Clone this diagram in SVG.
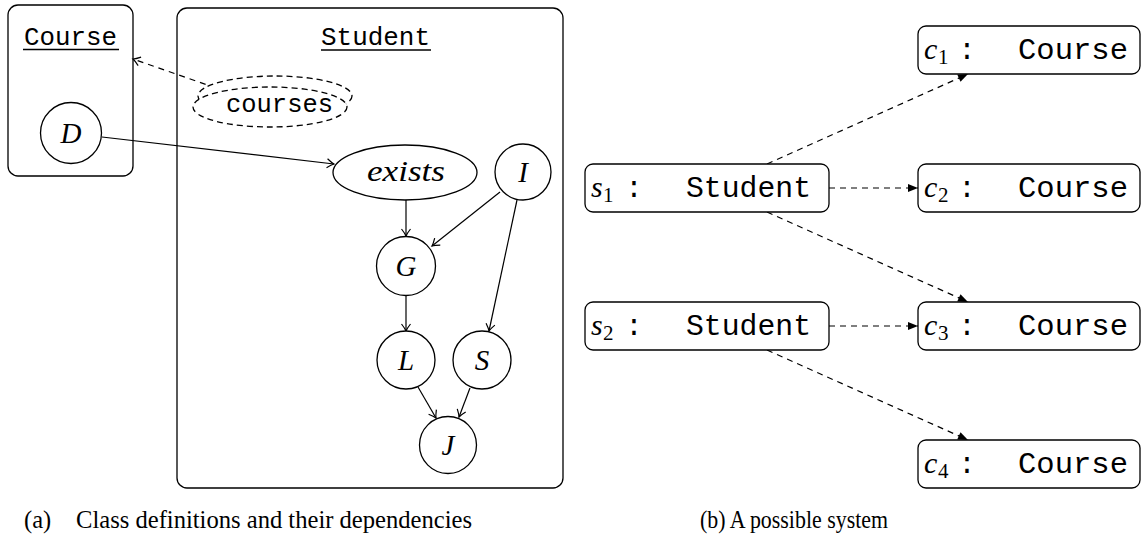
<svg xmlns="http://www.w3.org/2000/svg" width="1144" height="543" viewBox="0 0 1144 543">
<style>
.box{fill:#fff;stroke:#000;stroke-width:1.3}
.nd{fill:#fff;stroke:#000;stroke-width:1.3}
.dnd{fill:#fff;stroke:#000;stroke-width:1.3;stroke-dasharray:6 4}
.mono{font-family:"Liberation Mono","DejaVu Sans Mono",monospace;fill:#000}
.it{font-family:"Liberation Serif","DejaVu Serif",serif;font-style:italic;fill:#000}
.rm{font-family:"Liberation Serif","DejaVu Serif",serif;fill:#000}
.e{fill:none;stroke:#000;stroke-width:1.2}
.de{fill:none;stroke:#000;stroke-width:1.2;stroke-dasharray:6 5}
.ul{stroke:#000;stroke-width:1.3}
</style>
<defs>
<marker id="to" markerUnits="userSpaceOnUse" markerWidth="14" markerHeight="14" viewBox="-10 -7 12 14" refX="0" refY="0" orient="auto">
<path d="M-7,-4.5 Q-2.5,-1 0,0 Q-2.5,1 -7,4.5" fill="none" stroke="#000" stroke-width="1.2" stroke-dasharray="none"/>
</marker>
<marker id="tri" markerUnits="userSpaceOnUse" markerWidth="14" markerHeight="14" viewBox="-12 -7 14 14" refX="0" refY="0" orient="auto">
<path d="M0,0 L-10,-4 L-10,4 Z" fill="#000" stroke="none"/>
</marker>
</defs>

<g id="course-class">
<rect class="box" x="8" y="5" width="125" height="171" rx="10"/>
<text class="mono" x="24" y="45" font-size="26" textLength="93" lengthAdjust="spacingAndGlyphs">Course</text>
<line class="ul" x1="23" y1="49.5" x2="119" y2="49.5"/>
</g>
<g id="student-class">
<rect class="box" x="177" y="8" width="386" height="480" rx="10"/>
<text class="mono" x="321" y="45" font-size="26" textLength="109" lengthAdjust="spacingAndGlyphs">Student</text>
<line class="ul" x1="321" y1="50" x2="431" y2="50"/>
</g>

<g id="connectors">
<line class="de" x1="216" y1="88" x2="133" y2="59" marker-end="url(#to)"/>
<line class="e" x1="102" y1="137" x2="334" y2="164" marker-end="url(#to)"/>
<line class="e" x1="406" y1="200" x2="406" y2="236" marker-end="url(#to)"/>
<line class="e" x1="500" y1="192" x2="432" y2="246" marker-end="url(#to)"/>
<line class="e" x1="517" y1="200" x2="489" y2="331" marker-end="url(#to)"/>
<line class="e" x1="406" y1="296" x2="406" y2="331" marker-end="url(#to)"/>
<line class="e" x1="418" y1="387" x2="436" y2="418" marker-end="url(#to)"/>
<line class="e" x1="470" y1="388" x2="459" y2="417" marker-end="url(#to)"/>
<line class="de" x1="767" y1="164" x2="968" y2="74" marker-end="url(#tri)"/>
<line class="de" x1="829" y1="188" x2="918" y2="188" marker-end="url(#tri)"/>
<line class="de" x1="767" y1="212" x2="968" y2="302" marker-end="url(#tri)"/>
<line class="de" x1="829" y1="326" x2="918" y2="326" marker-end="url(#tri)"/>
<line class="de" x1="767" y1="350" x2="968" y2="440" marker-end="url(#tri)"/>
</g>

<g id="courses">
<ellipse class="dnd" cx="275" cy="96" rx="77" ry="20"/>
<ellipse class="dnd" cx="270" cy="107" rx="77" ry="20"/>
<text class="mono" x="226" y="112" font-size="26" textLength="107" lengthAdjust="spacingAndGlyphs">courses</text>
</g>
<g id="D">
<circle class="nd" cx="71" cy="133" r="30.5"/>
<text class="it" x="71" y="143" font-size="29" text-anchor="middle">D</text>
</g>
<g id="exists">
<ellipse class="nd" cx="405" cy="172.5" rx="72" ry="27.5"/>
<text class="it" x="367" y="181" font-size="30" textLength="78" lengthAdjust="spacingAndGlyphs">exists</text>
</g>
<g id="I">
<circle class="nd" cx="523" cy="172" r="28"/>
<text class="it" x="523" y="182" font-size="29" text-anchor="middle">I</text>
</g>
<g id="G">
<circle class="nd" cx="406" cy="266" r="29.5"/>
<text class="it" x="406" y="276" font-size="29" text-anchor="middle">G</text>
</g>
<g id="L">
<circle class="nd" cx="406" cy="360" r="29"/>
<text class="it" x="406" y="370" font-size="29" text-anchor="middle">L</text>
</g>
<g id="S">
<circle class="nd" cx="482" cy="360" r="29"/>
<text class="it" x="482" y="370" font-size="29" text-anchor="middle">S</text>
</g>
<g id="J">
<circle class="nd" cx="448" cy="445" r="28.5"/>
<text class="it" x="448" y="455" font-size="29" text-anchor="middle">J</text>
</g>

<g id="s1">
<rect class="box" x="585" y="164" width="244" height="48" rx="8"/>
<text class="it" x="591" y="197" font-size="30">s</text>
<text class="rm" x="603" y="202" font-size="21">1</text>
<text class="mono" x="634" y="197" font-size="29" text-anchor="middle">:</text>
<text class="mono" x="686" y="197" font-size="29" textLength="125" lengthAdjust="spacingAndGlyphs">Student</text>
</g>
<g id="s2">
<rect class="box" x="585" y="302" width="244" height="48" rx="8"/>
<text class="it" x="591" y="335" font-size="30">s</text>
<text class="rm" x="603" y="340" font-size="21">2</text>
<text class="mono" x="634" y="335" font-size="29" text-anchor="middle">:</text>
<text class="mono" x="686" y="335" font-size="29" textLength="125" lengthAdjust="spacingAndGlyphs">Student</text>
</g>
<g id="c1">
<rect class="box" x="918" y="26" width="222" height="48" rx="8"/>
<text class="it" x="924" y="59" font-size="30">c</text>
<text class="rm" x="938" y="64" font-size="21">1</text>
<text class="mono" x="967" y="59" font-size="29" text-anchor="middle">:</text>
<text class="mono" x="1018" y="59" font-size="29" textLength="110" lengthAdjust="spacingAndGlyphs">Course</text>
</g>
<g id="c2">
<rect class="box" x="918" y="164" width="222" height="48" rx="8"/>
<text class="it" x="924" y="197" font-size="30">c</text>
<text class="rm" x="938" y="202" font-size="21">2</text>
<text class="mono" x="967" y="197" font-size="29" text-anchor="middle">:</text>
<text class="mono" x="1018" y="197" font-size="29" textLength="110" lengthAdjust="spacingAndGlyphs">Course</text>
</g>
<g id="c3">
<rect class="box" x="918" y="302" width="222" height="48" rx="8"/>
<text class="it" x="924" y="335" font-size="30">c</text>
<text class="rm" x="938" y="340" font-size="21">3</text>
<text class="mono" x="967" y="335" font-size="29" text-anchor="middle">:</text>
<text class="mono" x="1018" y="335" font-size="29" textLength="110" lengthAdjust="spacingAndGlyphs">Course</text>
</g>
<g id="c4">
<rect class="box" x="918" y="440" width="222" height="48" rx="8"/>
<text class="it" x="924" y="473" font-size="30">c</text>
<text class="rm" x="938" y="478" font-size="21">4</text>
<text class="mono" x="967" y="473" font-size="29" text-anchor="middle">:</text>
<text class="mono" x="1018" y="473" font-size="29" textLength="110" lengthAdjust="spacingAndGlyphs">Course</text>
</g>

<g id="captions">
<text class="rm" x="24" y="528" font-size="24.5">(a)</text>
<text class="rm" x="76" y="528" font-size="24.5" textLength="396" lengthAdjust="spacingAndGlyphs">Class definitions and their dependencies</text>
<text class="rm" x="700" y="528" font-size="24.5" textLength="188" lengthAdjust="spacingAndGlyphs">(b) A possible system</text>
</g>
</svg>
